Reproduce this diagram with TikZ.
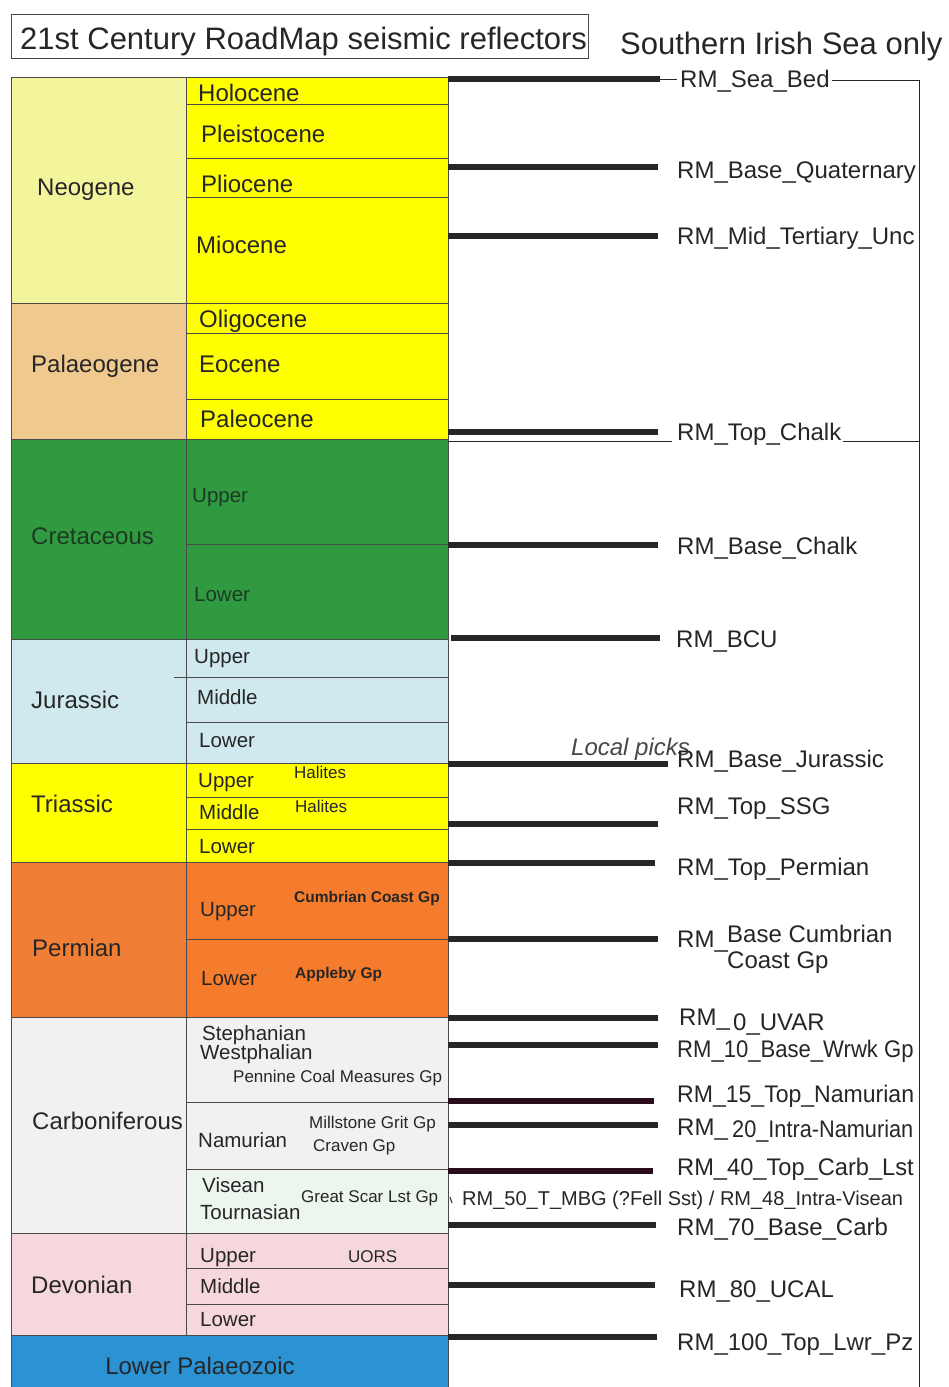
\documentclass[tikz,border=0pt]{standalone}
\usepackage{fontspec}
\setmainfont{Liberation Sans}
\usepackage{tikz}
\usetikzlibrary{positioning, calc}

\definecolor{ink}{HTML}{262626}
\definecolor{edge}{HTML}{4A4A4A}
\definecolor{neo}{HTML}{F3F59C}
\definecolor{pal}{HTML}{F0C98F}
\definecolor{yel}{HTML}{FFFF00}
\definecolor{cre}{HTML}{2F9A3F}
\definecolor{cretxt}{HTML}{1E3A24}
\definecolor{jur}{HTML}{D0E9EE}
\definecolor{perm}{HTML}{F07F35}
\definecolor{permB}{HTML}{F47C2C}
\definecolor{carb}{HTML}{F1F1F1}
\definecolor{carbG}{HTML}{EDF5EF}
\definecolor{dev}{HTML}{F6D8DC}
\definecolor{lpz}{HTML}{2B93D4}
\definecolor{maroon}{HTML}{2A0D1C}

\begin{document}
\begin{tikzpicture}[
    % pixel grid of the scanned chart, y running down
    x=1pt, y=-1pt,
    every node/.style={inner sep=0pt, text=ink},
    period/.style={anchor=base west, font=\fontsize{24}{28}\selectfont},
    epoch/.style={anchor=base west, font=\fontsize{24}{28}\selectfont},
    stage/.style={anchor=base west, font=\fontsize{20.5}{24}\selectfont},
    fm/.style={anchor=base west, font=\fontsize{17}{20}\selectfont},
    fmbold/.style={anchor=base west, font=\fontsize{15.5}{19}\selectfont\bfseries},
    rlab/.style={anchor=base west, font=\fontsize{24}{26}\selectfont},
    head/.style={anchor=base west, font=\fontsize{31}{36}\selectfont},
    refl/.style={line width=6.5pt, draw=ink},
    grid/.style={draw=edge, line width=0.8pt},
    thin/.style={draw=ink, line width=1pt}
]
    \useasboundingbox (0,0) rectangle (949,1387);

    % --- Headings ---
    \draw[thin, draw=edge] (11,14) rectangle (588,58);
    \node[head] (ttl) at (20,49) {21st Century RoadMap seismic reflectors};
    \node[head] (sis) at (620,54) {Southern Irish Sea only};

    % --- Colour bands ---
    \fill[neo] (11,77) rectangle (186,303);
    \fill[pal] (11,303) rectangle (186,439);
    \fill[yel] (186,77) rectangle (448,439);
    \fill[cre] (11,439) rectangle (448,639);
    \fill[jur] (11,639) rectangle (448,763);
    \fill[yel] (11,763) rectangle (448,862);
    \fill[perm] (11,862) rectangle (186,1017);
    \fill[permB] (186,862) rectangle (448,1017);
    \fill[carb] (11,1017) rectangle (448,1233);
    \fill[carbG] (186,1169) rectangle (448,1233);
    \fill[dev] (11,1233) rectangle (448,1335);
    \fill[lpz] (11,1335) rectangle (448,1387);

    % --- Table rules ---
    \draw[grid] (11,1387) -- (11,77) -- (448,77) -- (448,1387);
    \draw[grid] (186,77) -- (186,1335);
    \draw[grid] (11,303) -- (448,303);
    \draw[grid] (11,439) -- (448,439);
    \draw[grid] (11,639) -- (448,639);
    \draw[grid] (11,763) -- (448,763);
    \draw[grid] (11,862) -- (448,862);
    \draw[grid] (11,1017) -- (448,1017);
    \draw[grid] (11,1233) -- (448,1233);
    \draw[grid] (11,1335) -- (448,1335);
    \draw[grid] (186,104) -- (448,104);
    \draw[grid] (186,158) -- (448,158);
    \draw[grid] (186,197) -- (448,197);
    \draw[grid] (186,333) -- (448,333);
    \draw[grid] (186,399) -- (448,399);
    \draw[grid] (186,544) -- (448,544);
    \draw[grid] (174,677) -- (448,677);
    \draw[grid] (186,722) -- (448,722);
    \draw[grid] (186,797) -- (448,797);
    \draw[grid] (186,829) -- (448,829);
    \draw[grid] (186,939) -- (448,939);
    \draw[grid] (186,1102) -- (448,1102);
    \draw[grid] (186,1169) -- (448,1169);
    \draw[grid] (186,1268) -- (448,1268);
    \draw[grid] (186,1304) -- (448,1304);

    % --- Periods ---
    \node[period] (neog) at (37,195) {Neogene};
    \node[period] (palg) at (31,372) {Palaeogene};
    \node[period, text=cretxt] (cret) at (31,544) {Cretaceous};
    \node[period] (jura) at (31,708) {Jurassic};
    \node[period] (tria) at (31,812) {Triassic};
    \node[period] (perm) at (32,956) {Permian};
    \node[period] (carb) at (32,1129) {Carboniferous};
    \node[period] (devo) at (31,1293) {Devonian};
    \node[period, anchor=base] (lpz) at (200,1374) {Lower Palaeozoic};

    % --- Epochs and stages ---
    \node[epoch] (holo) at (198,101) {Holocene};
    \node[epoch] (plei) at (201,142) {Pleistocene};
    \node[epoch] (plio) at (201,192) {Pliocene};
    \node[epoch] (mioc) at (196,253) {Miocene};
    \node[epoch] (olig) at (199,327) {Oligocene};
    \node[epoch] (eoce) at (199,372) {Eocene};
    \node[epoch] (pale) at (200,427) {Paleocene};
    \node[stage, text=cretxt] (kU) at (192,502) {Upper};
    \node[stage, text=cretxt] (kL) at (194,601) {Lower};
    \node[stage] (jU) at (194,663) {Upper};
    \node[stage] (jM) at (197,704) {Middle};
    \node[stage] (jL) at (199,747) {Lower};
    \node[stage] (tU) at (198,787) {Upper};
    \node[fm] (hal1) at (294,778) {Halites};
    \node[stage] (tM) at (199,819) {Middle};
    \node[fm] (hal2) at (295,812) {Halites};
    \node[stage] (tL) at (199,853) {Lower};
    \node[stage] (pU) at (200,916) {Upper};
    \node[fmbold] (ccg) at (294,902) {Cumbrian Coast Gp};
    \node[stage] (pL) at (201,985) {Lower};
    \node[fmbold] (app) at (295,978) {Appleby Gp};
    \node[stage] (step) at (202,1040) {Stephanian};
    \node[stage] (west) at (200,1059) {Westphalian};
    \node[fm] (pcm) at (233,1082) {Pennine Coal Measures Gp};
    \node[stage] (namu) at (198,1147) {Namurian};
    \node[fm] (msg) at (309,1128) {Millstone Grit Gp};
    \node[fm] (crv) at (313,1151) {Craven Gp};
    \node[stage] (vise) at (202,1192) {Visean};
    \node[stage] (tour) at (200,1219) {Tournasian};
    \node[fm] (gsl) at (301,1202) {Great Scar Lst Gp};
    \node[stage] (dU) at (200,1262) {Upper};
    \node[fm] (uors) at (348,1262) {UORS};
    \node[stage] (dM) at (200,1293) {Middle};
    \node[stage] (dL) at (200,1326) {Lower};

    % --- Reflector labels ---
    \node[rlab] (rSea) at (680,87) {RM\_Sea\_Bed};
    \node[rlab] (rQua) at (677,178) {RM\_Base\_Quaternary};
    \node[rlab] (rMtu) at (677,244) {RM\_Mid\_Tertiary\_Unc};
    \node[rlab] (rTch) at (677,440) {RM\_Top\_Chalk};
    \node[rlab] (rBch) at (677,554) {RM\_Base\_Chalk};
    \node[rlab] (rBcu) at (676,647) {RM\_BCU};
    \node[rlab, font=\fontsize{24}{28}\selectfont\itshape, text=ink!85] (lpick) at (571,755) {Local picks};
    \node[rlab] (rBju) at (677,767) {RM\_Base\_Jurassic};
    \node[rlab] (rSsg) at (677,814) {RM\_Top\_SSG};
    \node[rlab] (rTpe) at (677,875) {RM\_Top\_Permian};
    \node[rlab] (rCcA) at (677,947) {RM\_};
    \node[rlab, align=left] (rCcB) at (727,968) {Base Cumbrian\\Coast Gp};
    \node[rlab] (rUvA) at (679,1025) {RM\_};
    \node[rlab] (rUvB) at (733,1030) {0\_UVAR};
    \node[rlab] (rWrk) at (677,1057) {\scalebox{0.92}[1]{RM\_10\_Base\_Wrwk Gp}};
    \node[rlab] (rNam) at (677,1102) {\scalebox{0.96}[1]{RM\_15\_Top\_Namurian}};
    \node[rlab] (rInA) at (677,1135) {RM\_};
    \node[rlab] (rInB) at (732,1137) {\scalebox{0.905}[1]{20\_Intra-Namurian}};
    \node[rlab] (rCbl) at (677,1175) {\scalebox{0.985}[1]{RM\_40\_Top\_Carb\_Lst}};
    \node[rlab, font=\fontsize{20}{24}\selectfont] (rMbg) at (462,1205) {RM\_50\_T\_MBG (?Fell Sst) / RM\_48\_Intra-Visean};
    \node[rlab] (rBcb) at (677,1235) {RM\_70\_Base\_Carb};
    \node[rlab] (rUca) at (679,1297) {RM\_80\_UCAL};
    \node[rlab] (rLpz) at (677,1350) {RM\_100\_Top\_Lwr\_Pz};

    % --- Reflector picks on the table edge ---
    \coordinate (sea) at (448,79);
    \coordinate (qua) at (448,167);
    \coordinate (mtu) at (448,236);
    \coordinate (tch) at (448,432);
    \coordinate (bch) at (448,545);
    \coordinate (bcu) at (451,638);
    \coordinate (bju) at (448,764);
    \coordinate (ssg) at (448,824);
    \coordinate (tpe) at (448,863);
    \coordinate (ccg) at (448,939);
    \coordinate (uva) at (448,1018);
    \coordinate (wrk) at (448,1045);
    \coordinate (nam) at (448,1101);
    \coordinate (ina) at (448,1125);
    \coordinate (cbl) at (448,1171);
    \coordinate (bcb) at (448,1225);
    \coordinate (uca) at (448,1285);
    \coordinate (lwp) at (448,1337);

    \draw[refl, shorten >=20pt] (sea) -- (sea -| rSea.west);
    \draw[refl, shorten >=19pt] (qua) -- (qua -| rQua.west);
    \draw[refl, shorten >=19pt] (mtu) -- (mtu -| rMtu.west);
    \draw[refl, shorten >=19pt] (tch) -- (tch -| rTch.west);
    \draw[refl, shorten >=19pt] (bch) -- (bch -| rBch.west);
    \draw[refl, shorten >=16pt] (bcu) -- (bcu -| rBcu.west);
    \draw[refl, shorten >=9pt] (bju) -- (bju -| rBju.west);
    \draw[refl, shorten >=19pt] (ssg) -- (ssg -| rSsg.west);
    \draw[refl, shorten >=22pt] (tpe) -- (tpe -| rTpe.west);
    \draw[refl, shorten >=19pt] (ccg) -- (ccg -| rCcA.west);
    \draw[refl, shorten >=21pt] (uva) -- (uva -| rUvA.west);
    \draw[refl, shorten >=19pt] (wrk) -- (wrk -| rWrk.west);
    \draw[refl, draw=maroon, shorten >=23pt] (nam) -- (nam -| rNam.west);
    \draw[refl, shorten >=19pt] (ina) -- (ina -| rInA.west);
    \draw[refl, draw=maroon, shorten >=24pt] (cbl) -- (cbl -| rCbl.west);
    \draw[refl, shorten >=21pt] (bcb) -- (bcb -| rBcb.west);
    \draw[refl, shorten >=24pt] (uca) -- (uca -| rUca.west);
    \draw[refl, shorten >=20pt] (lwp) -- (lwp -| rLpz.west);
    \draw[thin] (450,1197) -- (452,1203);

    % --- Southern Irish Sea bracket ---
    \coordinate (brkT) at (919,80);
    \coordinate (brkB) at (919,1387);
    \coordinate (chk) at (448,441);
    \draw[thin, shorten >=3pt] (sea) -- (sea -| rSea.west);
    \draw[thin, shorten <=2pt] (rSea.east |- brkT) -- (brkT) -- (brkB);
    \draw[thin, shorten >=5pt] (chk) -- (chk -| rTch.west);
    \draw[thin, shorten <=2pt] (rTch.east |- chk) -- (chk -| brkT);
\end{tikzpicture}
\end{document}
